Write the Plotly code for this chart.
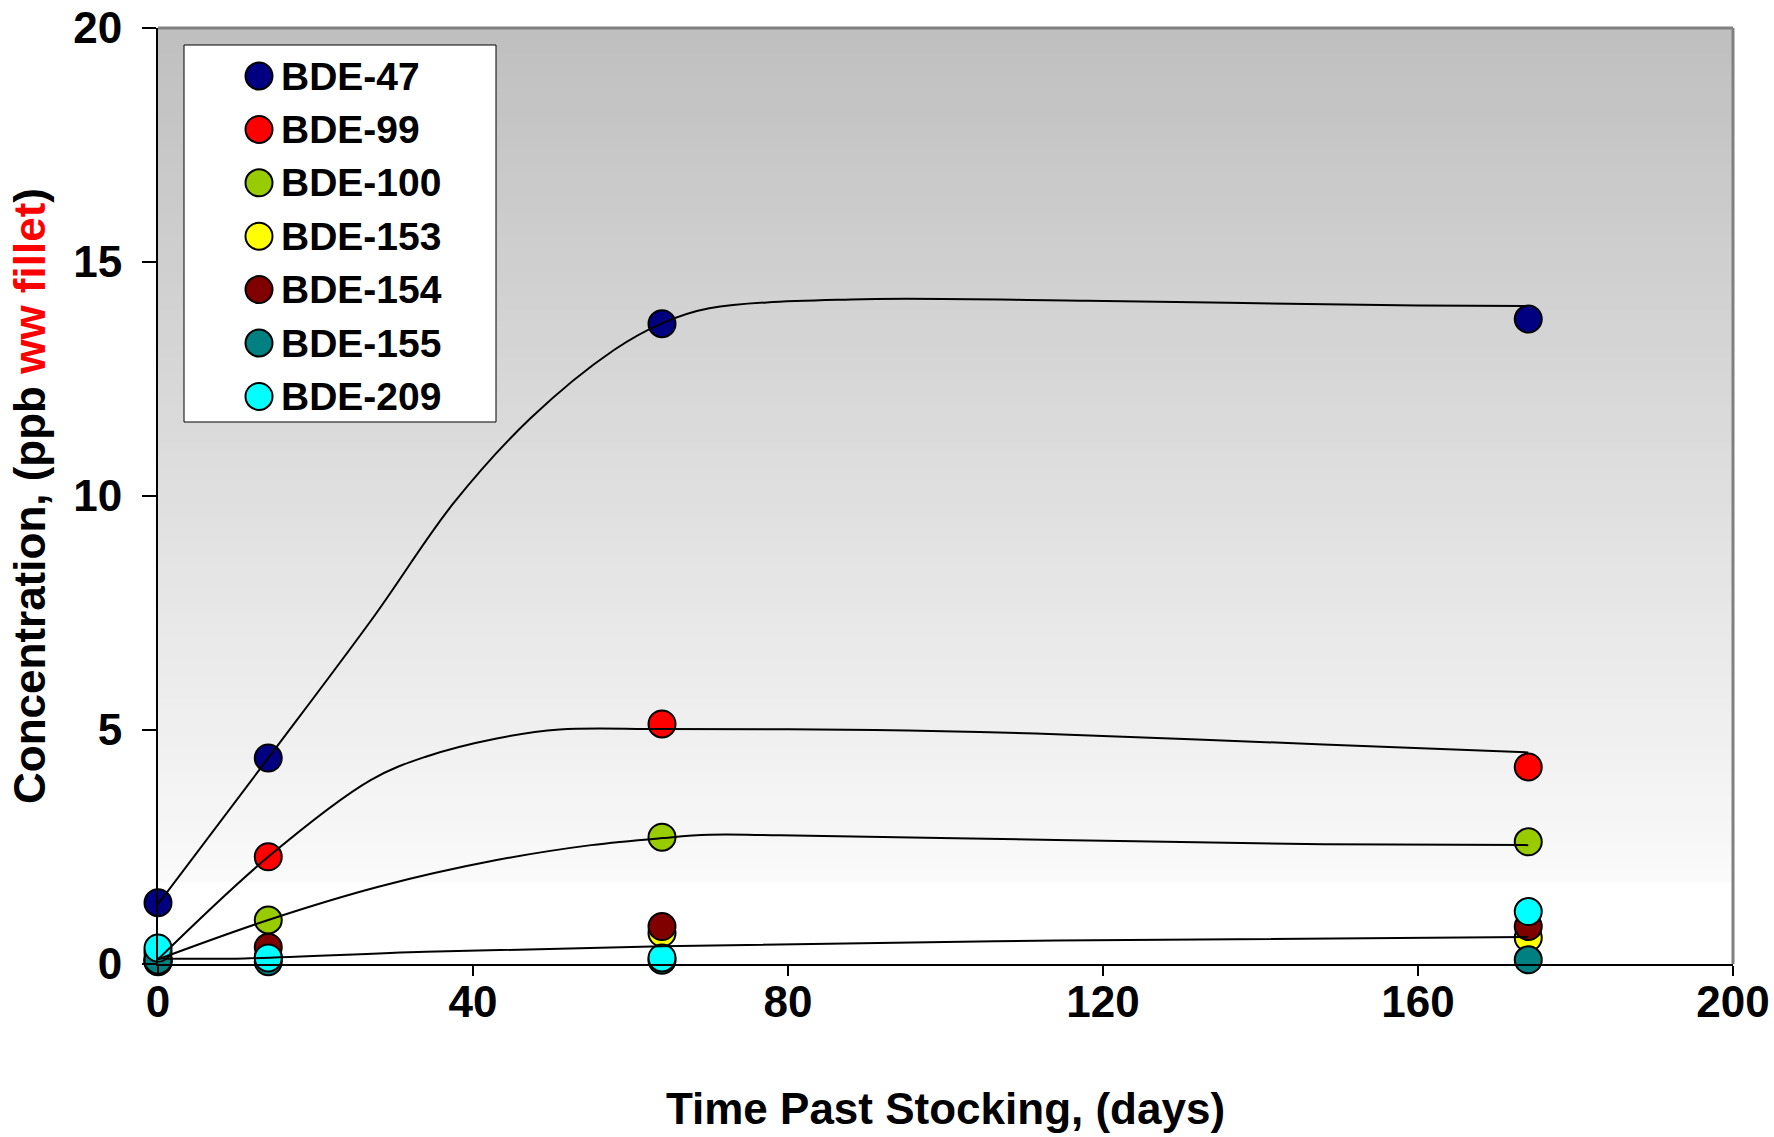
import plotly.graph_objects as go

# ---------------- data ----------------
days = [0, 14, 64, 174]
series_names = ["BDE-47", "BDE-99", "BDE-100", "BDE-153", "BDE-154", "BDE-155", "BDE-209"]
bde47 = [1.31, 4.40, 13.68, 13.78]
bde99 = [0.25, 2.29, 5.13, 4.21]
bde100 = [0.12, 0.94, 2.71, 2.61]
bde153 = [0.05, 0.15, 0.66, 0.56]
bde154 = [0.06, 0.36, 0.80, 0.80]
bde155 = [0.08, 0.05, 0.08, 0.09]
bde209 = [0.34, 0.13, 0.13, 1.12]

# smoothed trend curves
trend47_days = [0, 14, 27.4, 37.5, 47.3, 57.9, 64, 70, 88, 118, 160, 174]
trend47_vals = [1.28, 4.40, 7.42, 9.84, 11.66, 13.12, 13.69, 14.01, 14.20, 14.17, 14.07, 14.06]
trend99_days = [0, 14, 27, 34, 43, 51, 64, 91, 114, 148, 174]
trend99_vals = [0.10, 2.29, 3.93, 4.43, 4.82, 5.01, 5.02, 5.00, 4.91, 4.69, 4.52]
trend100_days = [0, 14, 28, 43, 55, 64, 70, 79, 114, 148, 174]
trend100_vals = [0.10, 0.94, 1.65, 2.22, 2.54, 2.69, 2.76, 2.75, 2.65, 2.56, 2.54]
trend_low_days = [0, 11, 34, 64, 114, 174]
trend_low_vals = [0.12, 0.12, 0.26, 0.38, 0.50, 0.58]

x_ticks = [0, 40, 80, 120, 160, 200]
y_ticks = [0, 5, 10, 15, 20]

# ---------------- styling ----------------
colors = ["#000080", "#FF0000", "#99CC00", "#FFFF00", "#800000", "#008080", "#00FFFF"]
FONT = "Liberation Sans, Arial, sans-serif"

W, H = 1774, 1137
ML, MR, MT, MB = 158, 41, 28, 173
PW, PH = W - ML - MR, H - MT - MB

fig = go.Figure()

values = [bde47, bde99, bde100, bde153, bde154, bde155, bde209]
for name, vals, col in zip(series_names, values, colors):
    fig.add_trace(go.Scatter(
        x=days, y=vals, mode="markers", name=name,
        marker=dict(size=27, color=col, line=dict(color="black", width=2)),
        cliponaxis=False, showlegend=False,
    ))

for tx, ty in [(trend47_days, trend47_vals), (trend99_days, trend99_vals),
               (trend100_days, trend100_vals), (trend_low_days, trend_low_vals)]:
    fig.add_trace(go.Scatter(
        x=tx, y=ty, mode="lines",
        line=dict(color="black", width=2, shape="spline", smoothing=1.0),
        hoverinfo="skip", showlegend=False, cliponaxis=False,
    ))

shapes = []
# gradient plot-area background (each band extends to the top to avoid seams)
y_lo, y_hi = 1.75, 20.0
N = 70
for i in range(N):
    a = y_lo + (y_hi - y_lo) * i / N
    t = (i + 0.5) / N
    v = int(round(250 - t * (250 - 191)))
    shapes.append(dict(type="rect", xref="x domain", yref="y", x0=0, x1=1, y0=a, y1=y_hi,
                       fillcolor=f"rgb({v},{v},{v})", line=dict(width=0), layer="below"))
# plot-area border (top/right)
shapes.append(dict(type="line", xref="x domain", yref="y domain", x0=0, x1=1, y0=1, y1=1,
                   line=dict(color="#808080", width=3), layer="below"))
shapes.append(dict(type="line", xref="x domain", yref="y domain", x0=1, x1=1, y0=0, y1=1,
                   line=dict(color="#808080", width=3), layer="below"))


# manual legend (pixel positions converted to paper coordinates)
def px_x(p):
    return (p - ML) / PW


def px_y(p):
    return (H - MB - p) / PH


shapes.append(dict(type="rect", xref="paper", yref="paper",
                   x0=px_x(184), x1=px_x(496), y0=px_y(422), y1=px_y(45),
                   fillcolor="white", line=dict(color="black", width=1)))
annotations = []
for i, (name, col) in enumerate(zip(series_names, colors)):
    cy = 76 + 53.4 * i
    shapes.append(dict(type="circle", xref="paper", yref="paper", xsizemode="pixel", ysizemode="pixel",
                       xanchor=px_x(259), yanchor=px_y(cy), x0=-13.5, x1=13.5, y0=-13.5, y1=13.5,
                       fillcolor=col, line=dict(color="black", width=2)))
    annotations.append(dict(xref="paper", yref="paper", x=px_x(279), y=px_y(cy), xanchor="left",
                            yanchor="middle", text=f"<b>{name}</b>", showarrow=False,
                            font=dict(family=FONT, size=39, color="black")))

fig.update_layout(
    width=W, height=H,
    margin=dict(l=ML, r=MR, t=MT, b=MB, autoexpand=False),
    paper_bgcolor="white", plot_bgcolor="white",
    font=dict(family=FONT, color="black"),
    shapes=shapes, annotations=annotations,
    showlegend=False,
)
fig.update_xaxes(
    range=[0, 200], tickvals=x_ticks, ticktext=[f"<b>{v}</b>" for v in x_ticks],
    showgrid=False, zeroline=False, showline=True, linecolor="black", linewidth=2,
    ticks="outside", ticklen=10, tickwidth=2, tickcolor="black", ticklabelstandoff=-12,
    ticklabeloverflow="allow",
    tickfont=dict(family=FONT, size=44, color="black"), automargin=False,
    title=dict(text="<b>Time Past Stocking, (days)</b>", font=dict(family=FONT, size=44, color="black"),
               standoff=68),
)
fig.update_yaxes(
    range=[0, 20], tickvals=y_ticks, ticktext=[f"<b>{v}</b>" for v in y_ticks],
    showgrid=False, zeroline=False, showline=True, linecolor="black", linewidth=2,
    ticks="outside", ticklen=14, tickwidth=2, tickcolor="black", ticklabelstandoff=11,
    ticklabeloverflow="allow",
    tickfont=dict(family=FONT, size=44, color="black"), automargin=False,
    title=dict(text="<b>Concentration, (ppb <span style='color:#FF0000'>ww fillet</span>)</b>",
               font=dict(family=FONT, size=44, color="black"), standoff=14),
)

# remove the default page margin so the figure fills the window exactly
fig.write_html("out.html", config={"displayModeBar": False},
               post_script="document.body.style.margin='0px';")
